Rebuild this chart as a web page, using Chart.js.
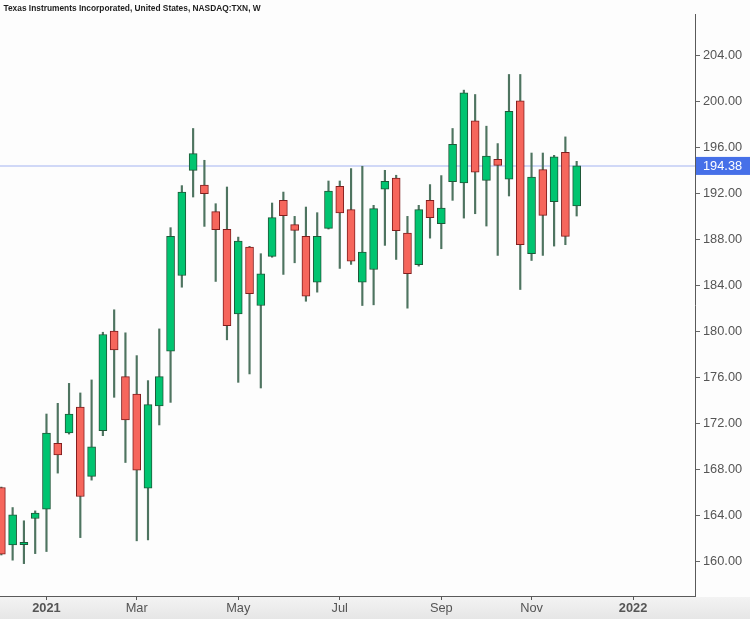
<!DOCTYPE html>
<html>
<head>
<meta charset="utf-8">
<script src="https://cdn.jsdelivr.net/npm/chart.js@4.4.1/dist/chart.umd.min.js"></script>
<style>
  html, body { margin: 0; padding: 0; background: #fdfdfd; }
  #wrap { width: 750px; height: 619px; }
</style>
</head>
<body>
<div id="wrap"><canvas id="myChart" width="750" height="619"></canvas></div>
<script>
const ctx = document.getElementById('myChart').getContext('2d');

// weekly candles, TXN, week of Dec 7 2020 .. week of Nov 29 2021
const opens = [166.46, 161.48, 161.50, 163.77, 164.58, 170.29, 171.19, 173.45, 167.42, 171.39,
  180.03, 176.09, 174.58, 166.41, 173.54, 178.29, 184.87, 194.00, 192.72, 190.41,
  188.87, 181.54, 187.33, 182.26, 186.52, 191.39, 189.28, 188.26, 184.29, 188.96,
  192.61, 190.58, 184.29, 185.39, 192.37, 193.33, 188.55, 185.80, 191.39, 189.37,
  193.02, 192.90, 198.29, 193.13, 194.96, 193.22, 200.03, 186.76, 194.06, 191.28,
  195.57, 190.90];
const highs = [166.50, 164.72, 163.57, 164.43, 172.84, 173.77, 175.50, 174.67, 175.80, 179.94,
  181.89, 179.89, 177.91, 175.74, 180.23, 189.02, 192.67, 197.63, 194.87, 191.10,
  192.55, 188.20, 187.40, 186.76, 191.16, 192.11, 190.00, 190.81, 190.32, 193.07,
  193.07, 194.15, 194.35, 190.96, 194.00, 193.57, 190.00, 190.96, 192.76, 193.54,
  197.63, 200.96, 200.58, 197.83, 196.32, 202.32, 202.32, 195.50, 195.50, 195.30,
  196.90, 194.78];
const lows = [160.60, 160.15, 159.85, 160.72, 160.90, 167.71, 171.10, 162.11, 167.10, 170.96,
  174.29, 168.63, 161.83, 161.91, 171.89, 173.85, 183.85, 191.68, 189.13, 184.35,
  179.28, 175.59, 176.32, 175.10, 186.45, 184.96, 185.97, 182.63, 183.42, 188.90,
  185.48, 185.83, 182.26, 182.32, 187.48, 186.26, 182.03, 185.68, 188.11, 187.19,
  191.39, 189.85, 190.23, 189.16, 186.61, 191.77, 183.65, 186.17, 186.61, 187.42,
  187.54, 190.03];
const closes = [160.67, 164.09, 161.70, 164.23, 171.19, 169.28, 172.84, 165.68, 170.00, 179.74,
  178.41, 172.32, 167.97, 173.65, 176.09, 188.26, 192.11, 195.45, 191.97, 188.84,
  180.52, 187.85, 183.28, 185.02, 189.89, 190.06, 188.78, 183.07, 188.26, 192.20,
  190.29, 186.11, 186.90, 190.67, 193.04, 188.76, 185.02, 190.58, 189.89, 190.72,
  196.26, 200.72, 193.83, 195.24, 194.43, 199.13, 187.54, 193.42, 190.09, 195.16,
  188.26, 194.38];

const lastPrice = 194.38;
const titleText = 'Texas Instruments Incorporated, United States, NASDAQ:TXN, W';

// x axis: week index of first candle of each labelled period
const tickWeeks = [4, 12, 21, 30, 39, 47, 56];
const tickLabels = ['2021', 'Mar', 'May', 'Jul', 'Sep', 'Nov', '2022'];
const yTicks = [160, 164, 168, 172, 176, 180, 184, 188, 192, 196, 200, 204];

const UP = 'rgb(0,196,112)';
const UP_EDGE = 'rgb(30,88,56)';
const DOWN = 'rgb(246,102,92)';
const DOWN_EDGE = 'rgb(128,30,30)';
const WICK = 'rgb(78,116,96)';

let bodies = [];
let wicks = [];
for (let i = 0; i < opens.length; i++) {
    bodies.push({ x: i, y: [opens[i], closes[i]] });
    wicks.push({ x: i, y: [lows[i], highs[i]] });
}

function isUp(i) {
    return closes[i] >= opens[i];
}

const extras = {
    id: 'extras',
    beforeDraw(chart) {
        const c = chart.ctx;
        c.save();
        c.fillStyle = '#fdfdfd';
        c.fillRect(0, 0, chart.width, chart.height);
        const top = chart.chartArea.bottom + 1;
        let g = c.createLinearGradient(0, top, 0, chart.height);
        g.addColorStop(0, '#f3f3f3');
        g.addColorStop(1, '#e6e6e6');
        c.fillStyle = g;
        c.fillRect(0, top, chart.width, chart.height - top);
        c.restore();
    },
    beforeDatasetsDraw(chart) {
        const c = chart.ctx;
        const a = chart.chartArea;
        const y = chart.scales.y.getPixelForValue(lastPrice);
        c.save();
        c.strokeStyle = 'rgba(120,145,235,0.45)';
        c.lineWidth = 1.5;
        c.beginPath();
        c.moveTo(a.left, y);
        c.lineTo(a.right, y);
        c.stroke();
        c.restore();
    },
    afterDraw(chart) {
        const c = chart.ctx;
        const a = chart.chartArea;
        const y = chart.scales.y.getPixelForValue(lastPrice);
        c.save();
        // last price tag
        c.fillStyle = 'rgb(70,112,232)';
        c.fillRect(a.right + 1, y - 9, chart.width - a.right - 1, 18);
        c.fillStyle = '#ffffff';
        c.font = '12.8px "Liberation Sans", Arial, sans-serif';
        c.textBaseline = 'middle';
        c.textAlign = 'left';
        c.fillText(lastPrice.toFixed(2), a.right + 8, y + 0.5);
        // title
        c.fillStyle = '#1e1e1e';
        c.font = 'bold 8.35px "Liberation Sans", Arial, sans-serif';
        c.textBaseline = 'alphabetic';
        c.fillText(titleText, 3.5, 10.5);
        c.restore();
    }
};

const myChart = new Chart(ctx, {
    type: 'bar',
    data: {
        datasets: [{
            label: 'body',
            data: bodies,
            order: 0,
            grouped: false,
            barThickness: 8,
            backgroundColor: (c) => isUp(c.dataIndex) ? UP : DOWN,
            borderColor: (c) => isUp(c.dataIndex) ? UP_EDGE : DOWN_EDGE,
            borderWidth: 1,
            borderSkipped: false
        }, {
            label: 'wick',
            data: wicks,
            order: 1,
            grouped: false,
            barThickness: 1.5,
            backgroundColor: WICK,
            borderWidth: 0
        }]
    },
    options: {
        responsive: false,
        animation: false,
        layout: { padding: { top: 14, left: 0, right: 0, bottom: 0 } },
        plugins: {
            legend: { display: false },
            tooltip: { enabled: false }
        },
        scales: {
            x: {
                type: 'linear',
                min: -0.12,
                max: 61.49,
                offset: false,
                afterBuildTicks: (s) => { s.ticks = tickWeeks.map(v => ({ value: v })); },
                afterFit: (s) => { s.height = 23; },
                grid: { offset: false, drawOnChartArea: false, drawTicks: true, tickLength: 4, color: '#555' },
                border: { display: true, color: '#5a5a5a', width: 1 },
                ticks: {
                    autoSkip: false,
                    maxRotation: 0,
                    padding: 1,
                    color: '#555',
                    font: (c) => ({
                        family: '"Liberation Sans", Arial, sans-serif',
                        size: 12.8,
                        weight: (c.index === 0 || c.index === 6) ? 'bold' : 'normal'
                    }),
                    callback: (value, index) => tickLabels[index]
                }
            },
            y: {
                position: 'right',
                min: 157.04,
                max: 207.57,
                afterBuildTicks: (s) => { s.ticks = yTicks.map(v => ({ value: v })); },
                afterFit: (s) => { s.width = 55; },
                grid: { drawOnChartArea: false, drawTicks: true, tickLength: 5, color: '#666' },
                border: { display: true, color: '#5a5a5a', width: 1 },
                ticks: {
                    padding: 3,
                    color: '#555',
                    font: { family: '"Liberation Sans", Arial, sans-serif', size: 12.8 },
                    callback: (value) => Number(value).toFixed(2)
                }
            }
        }
    },
    plugins: [extras]
});
</script>
</body>
</html>
